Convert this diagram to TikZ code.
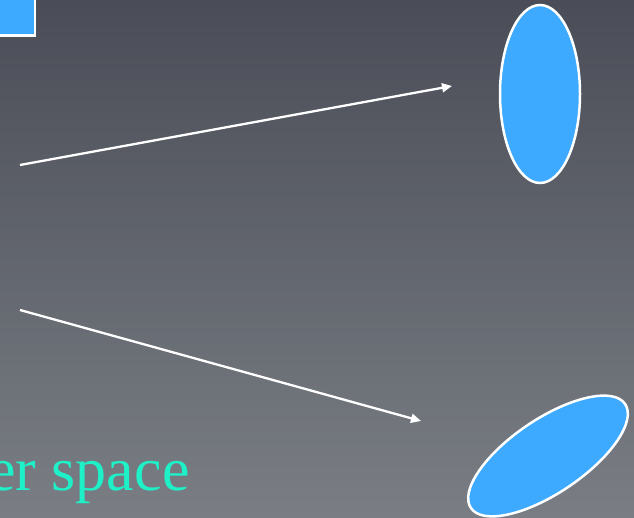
\documentclass[tikz,border=0pt]{standalone}
\usepackage{fontspec}
\setmainfont{Liberation Serif}
\usetikzlibrary{arrows.meta,shapes.geometric}
\definecolor{bgtop}{RGB}{74,77,87}
\definecolor{bgbot}{RGB}{122,126,132}
\definecolor{blobblue}{RGB}{62,170,255}
\definecolor{txtcyan}{RGB}{30,240,200}
\tikzset{
  blob/.style={ellipse, draw=white, line width=2.5pt, fill=blobblue, minimum width=80pt, minimum height=178pt, inner sep=0pt},
  mapline/.style={draw=white, line width=2.3pt, -{Triangle[length=10pt,width=9pt]}},
}
\begin{document}
\begin{tikzpicture}[x=1pt,y=-1pt]
\useasboundingbox (0,0) rectangle (634,518);
\clip (0,0) rectangle (634,518);
\shade[top color=bgtop, bottom color=bgbot] (0,0) rectangle (634,518);
\node[draw=white, line width=2.5pt, fill=blobblue, minimum size=60pt, inner sep=0pt, anchor=south east] (sq) at (36,37) {};
\node[blob] (e1) at (540,94) {};
\node[blob, minimum width=74pt, minimum height=186pt, rotate=-56] (e2) at (548,456) {};
\coordinate (a1s) at (20,165);
\coordinate (a1e) at (452,86);
\coordinate (a2s) at (20,310);
\coordinate (a2e) at (421,421);
\draw[mapline] (a1s) -- (a1e);
\draw[mapline] (a2s) -- (a2e);
\node[anchor=base west, text=txtcyan, font=\fontsize{62}{70}\selectfont, inner sep=0pt] (lbl) at (-12,490) {er space};
\end{tikzpicture}
\end{document}
